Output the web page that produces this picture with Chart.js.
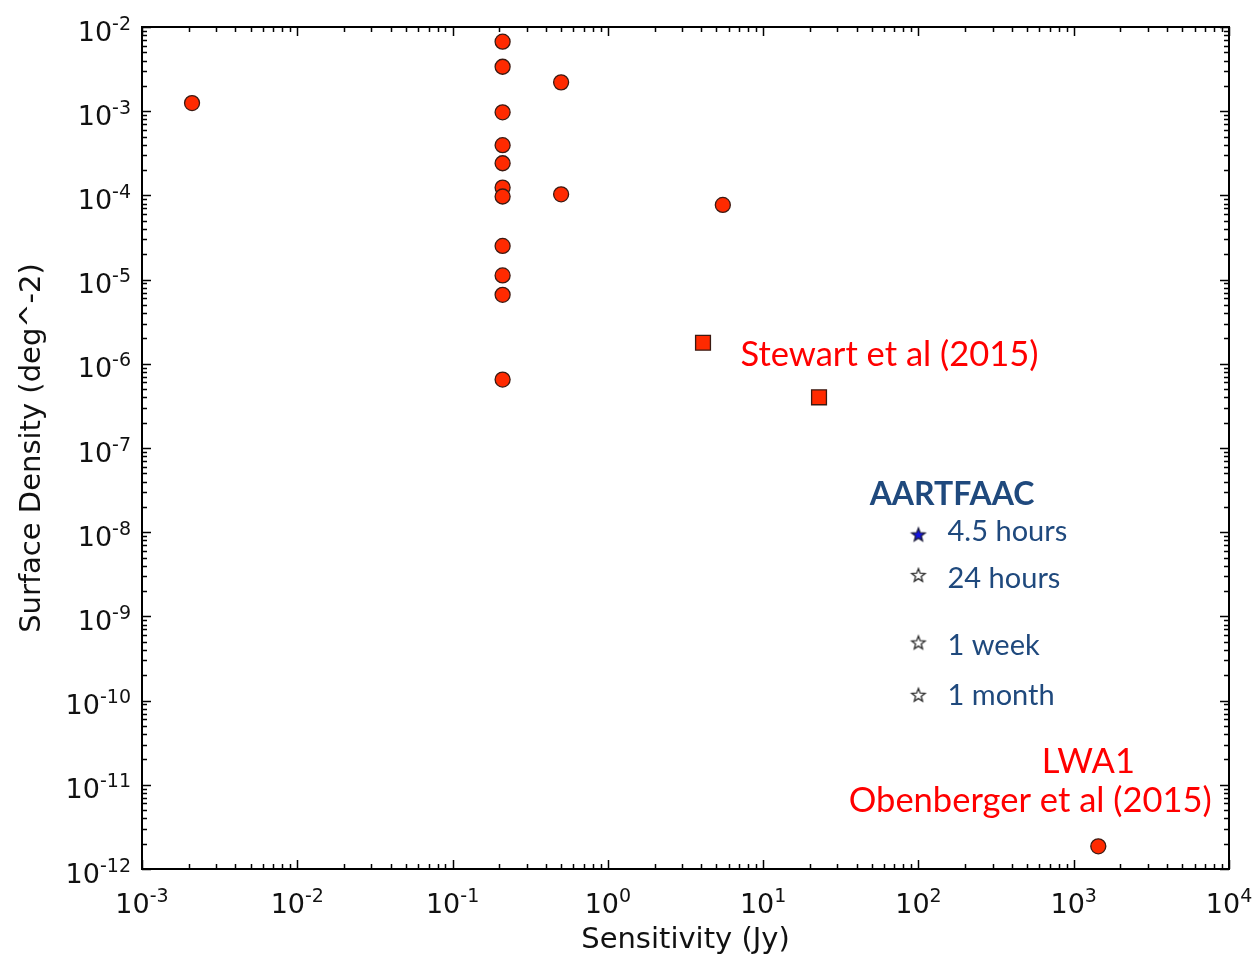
<!DOCTYPE html>
<html>
<head>
<meta charset="utf-8">
<script src="https://cdn.jsdelivr.net/npm/chart.js@4.4.1/dist/chart.umd.min.js"></script>
<style>
  html, body { margin: 0; padding: 0; background: #fff; }
  #wrap { width: 1258px; height: 957px; }
</style>
</head>
<body>
<div id="wrap"><canvas id="densityChart" width="1258" height="957"></canvas></div>
<script>
// Published surveys (red circles)
const surveyX = [0.0021, 0.21, 0.21, 0.21, 0.21, 0.21, 0.21, 0.21, 0.21, 0.21, 0.21, 0.21, 0.5, 0.5, 5.5];
const surveyY = [1.25e-3, 6.7e-3, 3.37e-3, 9.7e-4, 3.95e-4, 2.41e-4, 1.24e-4, 9.7e-5, 2.51e-5, 1.12e-5, 6.6e-6, 6.5e-7, 2.2e-3, 1.03e-4, 7.7e-5];

// Stewart et al (2015) (squares)
const stewartX = [4.1, 22.9];
const stewartY = [1.78e-6, 4.0e-7];

// LWA1, Obenberger et al (2015)
const lwaX = [1440];
const lwaY = [1.86e-12];

// AARTFAAC predictions (stars)
const aartLabels = ['4.5 hours', '24 hours', '1 week', '1 month'];
const aartX = [100, 100, 100, 100];
const aartY = [9.4e-9, 3.1e-9, 4.9e-10, 1.17e-10];

// Axis decades (exponents of the tick labels)
const xExponents = [-3, -2, -1, 0, 1, 2, 3, 4];
const yExponents = [-12, -11, -10, -9, -8, -7, -6, -5, -4, -3, -2];

const toPoints = (xs, ys) => xs.map((x, i) => ({ x: x, y: ys[i] }));

// Five-pointed star marker drawn on a small canvas
function makeStar(fill, stroke) {
  const c = document.createElement('canvas');
  c.width = 18;
  c.height = 18;
  const g = c.getContext('2d');
  g.beginPath();
  for (let i = 0; i < 10; i++) {
    const r = i % 2 === 0 ? 7 : 3;
    const a = -Math.PI / 2 + i * Math.PI / 5;
    const px = 9 + r * Math.cos(a);
    const py = 9.6 + r * Math.sin(a);
    if (i === 0) g.moveTo(px, py); else g.lineTo(px, py);
  }
  g.closePath();
  g.fillStyle = fill;
  g.fill();
  g.lineWidth = 1.3;
  g.strokeStyle = stroke;
  g.stroke();
  return c;
}

const starFilled = makeStar('#1414e0', '#1a1a3a');
const starHollow = makeStar('#ffffff', '#2a2a2a');

// Text annotations, anchored in data coordinates
const notes = [
  { text: 'Stewart et al (2015)', x: 7.15, y: 9.3e-7, align: 'left', color: '#ff0000', font: '34.5px Lato' },
  { text: 'LWA1', x: 1243, y: 1.38e-11, align: 'center', color: '#ff0000', font: '34.5px Lato' },
  { text: 'Obenberger et al (2015)', x: 525, y: 4.76e-12, align: 'center', color: '#ff0000', font: '34.5px Lato' },
  { text: 'AARTFAAC', x: 48.5, y: 2.13e-8, align: 'left', color: '#1f497d', font: 'bold 32px Lato' },
  { text: aartLabels[0], x: 154, y: 7.8e-9, align: 'left', color: '#1f497d', font: '29px Lato' },
  { text: aartLabels[1], x: 154, y: 2.18e-9, align: 'left', color: '#1f497d', font: '29px Lato' },
  { text: aartLabels[2], x: 154, y: 3.5e-10, align: 'left', color: '#1f497d', font: '29px Lato' },
  { text: aartLabels[3], x: 154, y: 8.9e-11, align: 'left', color: '#1f497d', font: '29px Lato' }
];

const BASE_FONT = '27px "DejaVu Sans"';
const SUP_FONT = '19px "DejaVu Sans"';

function drawPower(ctx, exp, x, y, align) {
  const sup = String(exp);
  ctx.font = BASE_FONT;
  const wBase = ctx.measureText('10').width;
  ctx.font = SUP_FONT;
  const wSup = ctx.measureText(sup).width;
  const total = wBase + wSup;
  let left = x;
  if (align === 'right') left = x - total;
  else if (align === 'center') left = x - total / 2;
  ctx.textAlign = 'left';
  ctx.textBaseline = 'alphabetic';
  ctx.font = BASE_FONT;
  ctx.fillText('10', left, y);
  ctx.font = SUP_FONT;
  ctx.fillText(sup, left + wBase, y - 11);
}

const axesPlugin = {
  id: 'mplAxes',
  afterDraw(chart) {
    const ctx = chart.ctx;
    const area = chart.chartArea;
    const xs = chart.scales.x;
    const ys = chart.scales.y;
    ctx.save();
    ctx.strokeStyle = '#000';
    ctx.lineWidth = 1.5;

    // ticks, pointing inwards on all four sides
    ctx.beginPath();
    xExponents.forEach((e, i) => {
      for (let k = 1; k <= 9; k++) {
        if (k > 1 && i === xExponents.length - 1) break;
        const px = Math.round(xs.getPixelForValue(k * Math.pow(10, e))) + 0.5;
        const len = k === 1 ? 9 : 5;
        ctx.moveTo(px, area.bottom); ctx.lineTo(px, area.bottom - len);
        ctx.moveTo(px, area.top); ctx.lineTo(px, area.top + len);
      }
    });
    yExponents.forEach((e, i) => {
      for (let k = 1; k <= 9; k++) {
        if (k > 1 && i === yExponents.length - 1) break;
        const py = Math.round(ys.getPixelForValue(k * Math.pow(10, e))) + 0.5;
        const len = k === 1 ? 9 : 5;
        ctx.moveTo(area.left, py); ctx.lineTo(area.left + len, py);
        ctx.moveTo(area.right, py); ctx.lineTo(area.right - len, py);
      }
    });
    ctx.stroke();

    // frame
    ctx.lineWidth = 2;
    ctx.strokeRect(area.left, area.top, area.right - area.left, area.bottom - area.top);

    // tick labels
    ctx.fillStyle = '#111';
    xExponents.forEach(e => {
      drawPower(ctx, e, xs.getPixelForValue(Math.pow(10, e)), area.bottom + 44, 'center');
    });
    yExponents.forEach(e => {
      drawPower(ctx, e, area.left - 11, ys.getPixelForValue(Math.pow(10, e)) + 13.5, 'right');
    });

    // axis titles
    ctx.font = '29px "DejaVu Sans"';
    ctx.textAlign = 'center';
    ctx.textBaseline = 'alphabetic';
    ctx.fillText('Sensitivity (Jy)', (area.left + area.right) / 2, 948);
    ctx.save();
    ctx.translate(40, (area.top + area.bottom) / 2);
    ctx.rotate(-Math.PI / 2);
    ctx.fillText('Surface Density (deg^-2)', 0, 0);
    ctx.restore();

    // annotations
    notes.forEach(n => {
      ctx.font = n.font;
      ctx.fillStyle = n.color;
      ctx.textAlign = n.align;
      ctx.textBaseline = 'alphabetic';
      ctx.fillText(n.text, xs.getPixelForValue(n.x), ys.getPixelForValue(n.y));
    });
    ctx.restore();
  }
};

const markerFill = '#ff2a00';
const markerEdge = '#3a1a12';

new Chart(document.getElementById('densityChart').getContext('2d'), {
  type: 'scatter',
  data: {
    datasets: [
      {
        label: 'Surveys',
        data: toPoints(surveyX, surveyY),
        pointStyle: 'circle',
        pointRadius: 7.5,
        backgroundColor: markerFill,
        borderColor: markerEdge,
        borderWidth: 1.3
      },
      {
        label: 'Stewart et al (2015)',
        data: toPoints(stewartX, stewartY),
        pointStyle: 'rect',
        pointRadius: 10.5,
        backgroundColor: markerFill,
        borderColor: markerEdge,
        borderWidth: 1.3
      },
      {
        label: 'LWA1',
        data: toPoints(lwaX, lwaY),
        pointStyle: 'circle',
        pointRadius: 7.5,
        backgroundColor: markerFill,
        borderColor: markerEdge,
        borderWidth: 1.3
      },
      {
        label: 'AARTFAAC',
        data: toPoints(aartX, aartY),
        pointStyle: aartLabels.map((l, i) => i === 0 ? starFilled : starHollow),
        pointRadius: 7
      }
    ]
  },
  options: {
    responsive: false,
    animation: false,
    devicePixelRatio: 1,
    layout: { padding: { top: 27, right: 29, left: 0, bottom: 0 } },
    plugins: {
      legend: { display: false },
      tooltip: { enabled: false }
    },
    scales: {
      x: {
        type: 'logarithmic',
        min: 1e-3,
        max: 1e4,
        grid: { display: false },
        border: { display: false },
        ticks: { display: false },
        afterFit(scale) { scale.height = 88; }
      },
      y: {
        type: 'logarithmic',
        min: 1e-12,
        max: 1e-2,
        grid: { display: false },
        border: { display: false },
        ticks: { display: false },
        afterFit(scale) { scale.width = 142; }
      }
    }
  },
  plugins: [axesPlugin]
});
</script>
</body>
</html>
